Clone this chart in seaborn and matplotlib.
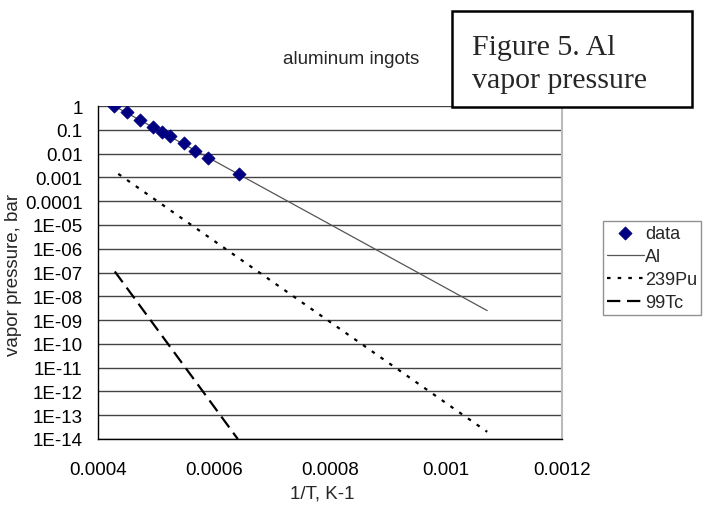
import matplotlib
matplotlib.use('Agg')
import matplotlib.pyplot as plt
import matplotlib.patches as patches
import seaborn as sns

# data points
data_x = [0.000428, 0.000450, 0.000472, 0.000494, 0.000510, 0.000524,
          0.000548, 0.000568, 0.000589, 0.000643]
data_y = [1.0, 0.55, 0.26, 0.135, 0.081, 0.053, 0.028, 0.013, 0.0065, 0.00135]

# straight lines on the log plot, given by their end points
al_x = [0.000428, 0.001071]
al_y = [1.0, 2.5e-9]
pu_x = [0.000435, 0.001071]
pu_y = [1.4e-3, 2.0e-14]
tc_x = [0.000429, 0.000641]
tc_y = [1.1e-7, 1.0e-14]

y_ticks = [10.0 ** -k for k in range(15)]
y_labels = ['1', '0.1', '0.01', '0.001', '0.0001'] + ['1E-%02d' % k for k in range(5, 15)]
x_ticks = [0.0004, 0.0006, 0.0008, 0.001, 0.0012]
x_labels = ['0.0004', '0.0006', '0.0008', '0.001', '0.0012']

sns.set_style('white')
plt.rcParams['font.family'] = ['Liberation Sans', 'DejaVu Sans']

fig = plt.figure(figsize=(7.05, 5.06), dpi=100)
ax = fig.add_axes([98 / 705, 66 / 506, 464 / 705, 333 / 506])

sns.lineplot(x=al_x, y=al_y, ax=ax, color='#555555', linewidth=0.9, label='Al')
sns.lineplot(x=pu_x, y=pu_y, ax=ax, color='black', linewidth=1.6,
             linestyle=(0, (1.6, 3.2)), label='239Pu')
sns.lineplot(x=tc_x, y=tc_y, ax=ax, color='black', linewidth=1.6,
             linestyle=(0, (6, 3)), label='99Tc')
sns.scatterplot(x=data_x, y=data_y, ax=ax, marker='D', color='#000080',
                edgecolor='#000080', s=45, label='data', zorder=5)

ax.set_yscale('log')
ax.set_xlim(0.0004, 0.0012)
ax.set_ylim(1e-14, 1)
ax.set_yticks(y_ticks)
ax.set_yticklabels(y_labels)
ax.yaxis.set_minor_locator(matplotlib.ticker.NullLocator())
ax.set_xticks(x_ticks)
ax.set_xticklabels(x_labels)

ax.grid(axis='y', color='#444444', linewidth=1.0)
ax.set_axisbelow(True)
ax.tick_params(axis='both', labelsize=13.5, colors='black')
ax.tick_params(axis='y', direction='out', length=6, width=1, pad=5, color='#888888')
ax.tick_params(axis='x', direction='out', length=4, width=1, pad=11.5, color='#888888')

for side in ['left', 'bottom']:
    ax.spines[side].set_color('black')
    ax.spines[side].set_linewidth(1.0)
ax.spines['right'].set_color('#bbbbbb')
ax.spines['right'].set_linewidth(1.5)
ax.spines['top'].set_visible(False)

ax.set_xlabel('')
ax.set_ylabel('')
fig.text(322 / 705, 1 - 494 / 506, '1/T, K-1', ha='center', va='center', fontsize=13.5)
fig.text(14 / 705, 1 - 275 / 506, 'vapor pressure, bar', ha='center', va='center',
         rotation=90, fontsize=13.5)
fig.text(351 / 705, 1 - 59 / 506, 'aluminum ingots', ha='center', va='center', fontsize=13.5)

# legend in the order of the original
handles, labels = ax.get_legend_handles_labels()
order = [labels.index(n) for n in ['data', 'Al', '239Pu', '99Tc']]
leg = ax.legend([handles[i] for i in order], [labels[i] for i in order],
                loc='upper left', bbox_to_anchor=(603 / 705, 1 - 222 / 506),
                bbox_transform=fig.transFigure, fontsize=13, frameon=True,
                fancybox=False, borderaxespad=0, borderpad=0.22,
                labelspacing=0.33, handlelength=2.05, handletextpad=0.05)
leg.get_frame().set_edgecolor('#777777')
leg.get_frame().set_linewidth(1.0)

# "Figure 5" box
box = patches.Rectangle((452 / 705, 1 - 108 / 506), 240 / 705, 96 / 506,
                        transform=fig.transFigure, facecolor='white',
                        edgecolor='black', linewidth=1.8, zorder=10)
fig.add_artist(box)
fig.text(472 / 705, 1 - 55 / 506, 'Figure 5. Al', ha='left', va='baseline',
         fontsize=21.5, family='Liberation Serif', zorder=11)
fig.text(472 / 705, 1 - 88 / 506, 'vapor pressure', ha='left', va='baseline',
         fontsize=21.5, family='Liberation Serif', zorder=11)

fig.savefig('out.png', dpi=100)
